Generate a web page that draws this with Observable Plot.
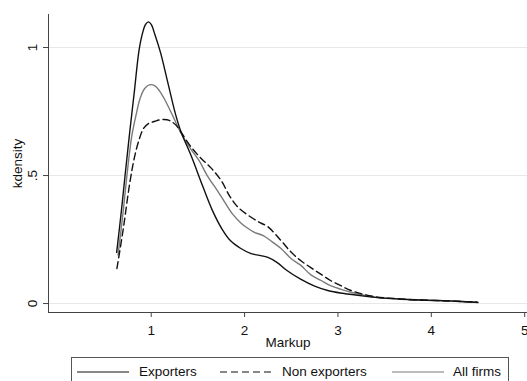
<!DOCTYPE html>
<html>
<head>
<meta charset="utf-8">
<script src="https://cdn.jsdelivr.net/npm/d3@7"></script>
<script src="https://cdn.jsdelivr.net/npm/@observablehq/plot@0.6"></script>
<style>
  html, body { margin: 0; padding: 0; background: #fff; overflow: hidden; }
  #wrap { position: relative; width: 527px; height: 381px; overflow: hidden; font-family: "Liberation Sans", Arial, sans-serif; }
  #legend { position: absolute; left: 71px; top: 357px; width: 438px; height: 34px; border: 1px solid #555; box-sizing: border-box; font-size: 13.5px; color: #111; }
  .item { position: absolute; top: 6px; height: 16px; line-height: 16px; white-space: nowrap; }
  .item svg { position: absolute; left: 0; top: 0; }
  .item span { position: absolute; top: 0; }
</style>
</head>
<body>
<div id="wrap">
  <div id="chart"></div>
  <div id="legend"></div>
</div>
<script>
// Kernel density estimates: [markup, density]
const exporters = [
  [0.63,0.20],[0.68,0.36],[0.72,0.50],[0.77,0.67],[0.82,0.83],[0.87,0.99],[0.91,1.06],
  [0.94,1.09],[0.97,1.10],[1.00,1.09],[1.04,1.05],[1.10,0.98],[1.18,0.86],[1.26,0.74],
  [1.32,0.67],[1.43,0.575],[1.55,0.46],[1.66,0.36],[1.76,0.29],[1.85,0.245],[1.96,0.215],
  [2.07,0.195],[2.16,0.188],[2.25,0.18],[2.35,0.16],[2.45,0.13],[2.60,0.095],[2.75,0.068],
  [2.90,0.05],[3.05,0.04],[3.28,0.029],[3.50,0.021],[3.75,0.016],[4.07,0.012],[4.28,0.009],[4.50,0.004]
];
const nonExporters = [
  [0.633,0.137],[0.70,0.29],[0.77,0.47],[0.82,0.57],[0.87,0.64],[0.92,0.685],[0.97,0.703],
  [1.04,0.712],[1.10,0.718],[1.17,0.718],[1.22,0.71],[1.27,0.695],[1.32,0.669],[1.43,0.61],
  [1.54,0.565],[1.64,0.53],[1.75,0.48],[1.84,0.42],[1.93,0.376],[2.07,0.337],[2.17,0.315],
  [2.25,0.30],[2.39,0.246],[2.50,0.20],[2.60,0.168],[2.71,0.14],[2.82,0.114],[2.92,0.09],
  [3.03,0.07],[3.14,0.051],[3.39,0.027],[3.67,0.018],[4.03,0.012],[4.25,0.009],[4.49,0.005]
];
const allFirms = [
  [0.645,0.19],[0.70,0.36],[0.74,0.50],[0.79,0.65],[0.84,0.74],[0.88,0.80],[0.93,0.84],
  [0.99,0.855],[1.04,0.85],[1.09,0.83],[1.14,0.80],[1.23,0.734],[1.32,0.665],[1.42,0.605],
  [1.51,0.56],[1.60,0.50],[1.71,0.44],[1.78,0.40],[1.87,0.35],[1.96,0.315],[2.03,0.295],
  [2.10,0.279],[2.20,0.265],[2.30,0.24],[2.39,0.215],[2.50,0.175],[2.60,0.15],[2.71,0.112],
  [2.82,0.09],[2.92,0.07],[3.03,0.056],[3.14,0.044],[3.39,0.025],[3.67,0.017],[4.03,0.012],
  [4.28,0.009],[4.49,0.005]
];
const seriesNames = ["Exporters", "Non exporters", "All firms"];
const xTicks = [1, 2, 3, 4, 5];
const yTicks = [0, 0.5, 1];
const yTickLabels = ["0", ".5", "1"];
const xTitle = "Markup";
const yTitle = "kdensity";

const xDomain = [-0.1, 5.03];
const yDomain = [-0.035, 1.129];

const styles = [
  {stroke: "#111", strokeWidth: 1.4, dash: null},
  {stroke: "#111", strokeWidth: 1.4, dash: "7,4"},
  {stroke: "#7a7a7a", strokeWidth: 1.4, dash: null}
];
const seriesData = [exporters, nonExporters, allFirms];

const chart = Plot.plot({
  width: 527,
  height: 352,
  marginLeft: 48,
  marginRight: 0,
  marginTop: 14,
  marginBottom: 40,
  x: {domain: xDomain},
  y: {domain: yDomain},
  style: {fontFamily: "'Liberation Sans', Arial, sans-serif", fontSize: "13.5px", color: "#111", background: "white"},
  marks: [
    Plot.gridY(yTicks, {stroke: "#e8e8e8", strokeOpacity: 1, strokeWidth: 1}),
    Plot.ruleX([xDomain[0]], {stroke: "#444", strokeWidth: 1}),
    Plot.ruleY([yDomain[0]], {stroke: "#444", strokeWidth: 1}),
    Plot.axisX(xTicks, {tickSize: 5, tickPadding: 8, stroke: "#444", fill: "#111", label: null}),
    Plot.axisY(yTicks, {tickSize: 5, tickFormat: () => "", stroke: "#444", label: null}),
    Plot.text(yTicks, {frameAnchor: "left", y: d => d, text: (d, i) => yTickLabels[i], rotate: -90, dx: -16, textAnchor: "middle", lineAnchor: "middle", fill: "#111"}),
    Plot.text([yTitle], {frameAnchor: "left", text: d => d, rotate: -90, dx: -31, textAnchor: "middle", lineAnchor: "middle", fill: "#111"}),
    Plot.text([xTitle], {frameAnchor: "bottom", text: d => d, dy: 30, textAnchor: "middle", lineAnchor: "middle", fill: "#111"}),
    ...seriesData.map((data, i) => Plot.line(data, {
      x: d => d[0], y: d => d[1],
      stroke: styles[i].stroke, strokeWidth: styles[i].strokeWidth,
      strokeDasharray: styles[i].dash, curve: "catmull-rom"
    })).reverse()
  ]
});
document.getElementById("chart").appendChild(chart);

// Legend (Stata-style boxed legend below the plot)
const legend = document.getElementById("legend");
const itemPos = [
  {left: 5, lineW: 52, textLeft: 62},
  {left: 148, lineW: 54, textLeft: 62},
  {left: 320, lineW: 52, textLeft: 61}
];
seriesNames.forEach((name, i) => {
  const it = document.createElement("div");
  it.className = "item";
  it.style.left = itemPos[i].left + "px";
  const dash = styles[i].dash ? ` stroke-dasharray="${styles[i].dash}"` : "";
  it.innerHTML = `<svg width="${itemPos[i].lineW}" height="16"><line x1="0" x2="${itemPos[i].lineW}" y1="8" y2="8" stroke="${styles[i].stroke}" stroke-width="1.2"${dash}/></svg><span style="left:${itemPos[i].textLeft}px">${name}</span>`;
  legend.appendChild(it);
});
</script>
</body>
</html>
